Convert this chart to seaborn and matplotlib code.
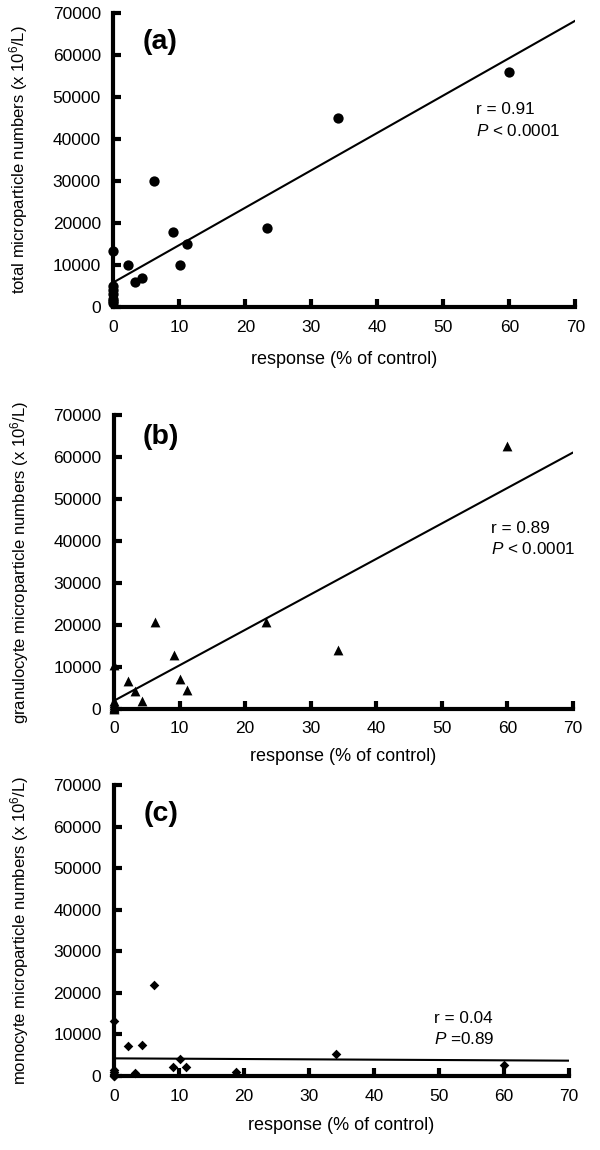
import matplotlib
matplotlib.use("Agg")
import matplotlib.pyplot as plt
import seaborn as sns
import numpy as np

# response (% of control)
response = [0, 0, 0, 0, 0, 0, 0, 2.2, 3.2, 4.3, 6.2, 9.1, 10.1, 11.1, 23.2, 34.1, 60.0]
response_mono = [0, 0, 0, 0, 0, 0, 0, 2.2, 3.2, 4.3, 6.2, 9.1, 10.1, 11.1, 18.8, 34.1, 60.0]

# microparticle numbers (x 10^6/L)
total_mp = [13400, 5000, 4000, 3000, 2000, 1500, 1000,
            10000, 6000, 6800, 30000, 17800, 10000, 15000, 18800, 45000, 56000]
granulocyte_mp = [10500, 2000, 1500, 1000, 500, 200, 0,
                  6700, 4200, 2000, 20700, 12900, 7200, 4600, 20800, 14000, 62500]
monocyte_mp = [13200, 1500, 1000, 500, 300, 100, 0,
               7200, 700, 7400, 21800, 2100, 4100, 2100, 1000, 5400, 2700]

panel_tags = ["(a)", "(b)", "(c)"]
y_labels = ["total microparticle numbers (x 10$^6$/L)",
            "granulocyte microparticle numbers (x 10$^6$/L)",
            "monocyte microparticle numbers (x 10$^6$/L)"]
stats_r = ["r = 0.91", "r = 0.89", "r = 0.04"]
stats_p = ["$\\it{P}$ < 0.0001", "$\\it{P}$ < 0.0001", "$\\it{P}$ =0.89"]
x_ticks = np.arange(0, 71, 10)
y_ticks = np.arange(0, 70001, 10000)

sns.set_theme(style="ticks", rc={"axes.edgecolor": "black", "text.color": "black",
                                 "axes.labelcolor": "black", "xtick.color": "black",
                                 "ytick.color": "black"})
plt.rcParams['font.family'] = ['Liberation Sans', 'DejaVu Sans']
plt.rcParams['mathtext.fontset'] = 'custom'
plt.rcParams['mathtext.rm'] = 'Liberation Sans'
plt.rcParams['mathtext.it'] = 'Liberation Sans:italic'
plt.rcParams['mathtext.bf'] = 'Liberation Sans:bold'

fig = plt.figure(figsize=(6, 11.5), dpi=100)

# axes rectangles in figure fractions
rects = [[0.189, 0.733, 0.770, 0.2557],
         [0.190, 0.3835, 0.765, 0.2557],
         [0.190, 0.0643, 0.758, 0.253]]
markers = ["o", "^", "D"]
msizes = [55, 50, 24]
xs = [response, response, response_mono]
series = [total_mp, granulocyte_mp, monocyte_mp]
tag_pos = [(4.4, 63000), (4.3, 64800), (4.6, 63000)]
stat_pos = [(55, 47000), (57.5, 43000), (49.3, 13900)]
xlabel_pad = [12, 8, 10]

for i in range(3):
    ax = fig.add_axes(rects[i])
    ax.set_xlim(0, 70)
    ax.set_ylim(0, 70000)
    sns.regplot(
        x=xs[i],
        y=series[i],
        ax=ax,
        ci=None,
        truncate=False,
        marker=markers[i],
        color="black",
        scatter_kws={"s": msizes[i], "clip_on": False, "zorder": 3,
                     "linewidths": 0, "alpha": 1},
        line_kws={"linewidth": 1.5, "color": "black"},
    )
    ax.set_xlim(0, 70)
    ax.set_ylim(0, 70000)
    ax.set_xticks(x_ticks)
    ax.set_yticks(y_ticks)
    ax.set_yticklabels([str(v) for v in y_ticks])
    sns.despine(ax=ax)
    for s in ["left", "bottom"]:
        ax.spines[s].set_linewidth(3)
    ax.tick_params(axis="both", direction="in", length=6, width=3,
                   labelsize=12.5, pad=9)
    ax.set_xlabel("response (% of control)", fontsize=13, labelpad=xlabel_pad[i])
    ax.set_ylabel(y_labels[i], fontsize=12, labelpad=16)
    ax.text(tag_pos[i][0], tag_pos[i][1], panel_tags[i], fontsize=20.5,
            fontweight="bold", va="center", ha="left")
    ax.text(stat_pos[i][0], stat_pos[i][1], stats_r[i], fontsize=12.3,
            va="center", ha="left")
    ax.text(stat_pos[i][0], stat_pos[i][1] - 5000, stats_p[i], fontsize=12.3,
            va="center", ha="left")
    ax.grid(False)

plt.savefig("out.png", dpi=100)
